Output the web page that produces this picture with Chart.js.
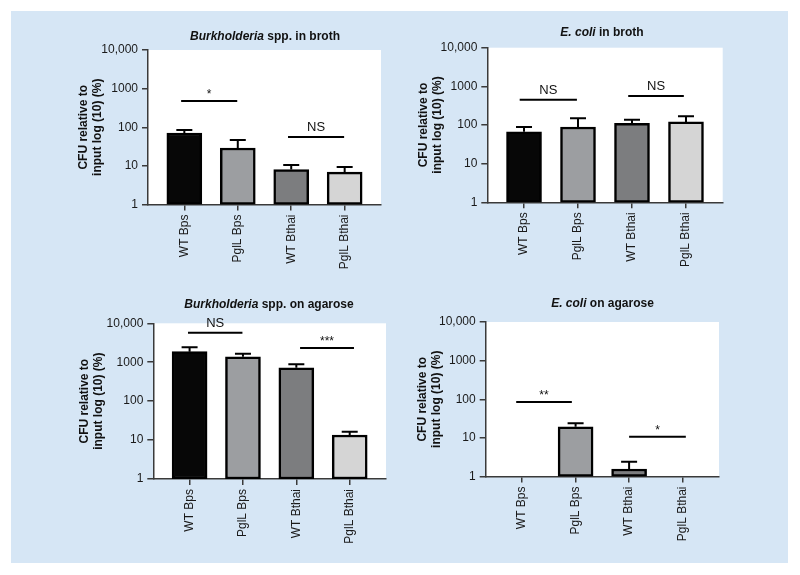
<!DOCTYPE html>
<html>
<head>
<meta charset="utf-8">
<script src="https://cdn.jsdelivr.net/npm/chart.js@4.4.1/dist/chart.umd.min.js"></script>
<style>
  html, body { margin: 0; padding: 0; background: #fff; }
  #page { position: relative; width: 800px; height: 575px; background: #fff; overflow: hidden; }
  #panel { position: absolute; left: 11px; top: 11px; width: 777px; height: 552px; background: #d6e6f5; }
  canvas { position: absolute; }
</style>
</head>
<body>
<div id="page">
  <div id="panel"></div>
  <canvas id="c1" width="400" height="288" style="left:0;top:0"></canvas>
  <canvas id="c2" width="400" height="288" style="left:400px;top:0"></canvas>
  <canvas id="c3" width="400" height="288" style="left:0;top:288px"></canvas>
  <canvas id="c4" width="400" height="288" style="left:400px;top:288px"></canvas>
</div>
<script>
const categories = ['WT Bps', 'PglL Bps', 'WT Bthai', 'PglL Bthai'];
const yTickValues = [1, 10, 100, 1000, 10000];
const yTickLabels = ['1', '10', '100', '1000', '10,000'];
const yTitle = ['CFU relative to', 'input log (10) (%)'];

// Burkholderia spp. in broth
const burkBrothMean = [71, 29, 8.0, 6.9];
const burkBrothUpper = [85, 47, 10.5, 9.4];
const burkBrothSigText = ['*', 'NS'];
const burkBrothSigFrom = [-0.06, 1.94];
const burkBrothSigTo = [0.99, 2.99];
const burkBrothSigAt = [479, 56];

// E. coli in broth
const ecoliBrothMean = [67, 89, 111, 120];
const ecoliBrothUpper = [89, 149, 137, 168];
const ecoliBrothSigText = ['NS', 'NS'];
const ecoliBrothSigFrom = [-0.08, 1.93];
const ecoliBrothSigTo = [0.98, 2.96];
const ecoliBrothSigAt = [452, 562];

// Burkholderia spp. on agarose
const burkAgarMean = [1865, 1384, 722, 13.5];
const burkAgarUpper = [2416, 1656, 883, 16.3];
const burkAgarSigText = ['NS', '***'];
const burkAgarSigFrom = [-0.03, 2.07];
const burkAgarSigTo = [0.99, 3.08];
const burkAgarSigAt = [5730, 2320];

// E. coli on agarose (no growth for WT Bps / PglL Bthai)
const ecoliAgarMean = [null, 19.4, 1.56, null];
const ecoliAgarUpper = [null, 23.8, 2.4, null];
const ecoliAgarSigText = ['**', '*'];
const ecoliAgarSigFrom = [-0.11, 2.0];
const ecoliAgarSigTo = [0.93, 3.06];
const ecoliAgarSigAt = [85, 10.7];

const FONT = "'Liberation Sans', Arial, sans-serif";
const barColors = ['#070707', '#9c9ea1', '#7c7d7f', '#d5d5d5'];
const axisColor = '#3a3a3a';
const TITLE_LH = 13.8;
const X_AXIS_H = 75;

const panels = [
    { id: 'c1', plot: { left: 148, top: 50, right: 381, bottom: 204.5 }, yTitleX: 84, titleX: 265, titleY: 36.5,
      italic: 'Burkholderia', rest: ' spp. in broth',
      mean: burkBrothMean, upper: burkBrothUpper, sigText: burkBrothSigText, sigFrom: burkBrothSigFrom, sigTo: burkBrothSigTo, sigAt: burkBrothSigAt },
    { id: 'c2', plot: { left: 87.3, top: 47.7, right: 322.7, bottom: 202.3 }, yTitleX: 24, titleX: 202, titleY: 33,
      italic: 'E. coli', rest: ' in broth',
      mean: ecoliBrothMean, upper: ecoliBrothUpper, sigText: ecoliBrothSigText, sigFrom: ecoliBrothSigFrom, sigTo: ecoliBrothSigTo, sigAt: ecoliBrothSigAt },
    { id: 'c3', plot: { left: 153.3, top: 35.3, right: 386, bottom: 191 }, yTitleX: 85, titleX: 269, titleY: 17,
      italic: 'Burkholderia', rest: ' spp. on agarose',
      mean: burkAgarMean, upper: burkAgarUpper, sigText: burkAgarSigText, sigFrom: burkAgarSigFrom, sigTo: burkAgarSigTo, sigAt: burkAgarSigAt },
    { id: 'c4', plot: { left: 85.7, top: 34, right: 319, bottom: 188.5 }, yTitleX: 23, titleX: 202.5, titleY: 16,
      italic: 'E. coli', rest: ' on agarose',
      mean: ecoliAgarMean, upper: ecoliAgarUpper, sigText: ecoliAgarSigText, sigFrom: ecoliAgarSigFrom, sigTo: ecoliAgarSigTo, sigAt: ecoliAgarSigAt },
];

function panelPlugin(p) {
    return {
        id: 'extras-' + p.id,
        beforeDraw(chart) {
            const a = chart.chartArea;
            const ctx = chart.ctx;
            ctx.save();
            ctx.fillStyle = '#fff';
            ctx.fillRect(a.left, a.top, a.right - a.left, a.bottom - a.top);
            ctx.restore();
        },
        afterDatasetsDraw(chart) {
            const { ctx, scales: { x, y } } = chart;
            ctx.save();
            ctx.strokeStyle = '#000';
            ctx.lineWidth = 2;
            // error bars (upper only)
            p.mean.forEach((m, i) => {
                if (m == null) return;
                const px = x.getPixelForValue(i);
                const top = y.getPixelForValue(m);
                const cap = y.getPixelForValue(p.upper[i]);
                ctx.beginPath();
                ctx.moveTo(px, top);
                ctx.lineTo(px, cap);
                ctx.moveTo(px - 8, cap);
                ctx.lineTo(px + 8, cap);
                ctx.stroke();
            });
            // significance bars
            ctx.fillStyle = '#111';
            ctx.textAlign = 'center';
            ctx.textBaseline = 'alphabetic';
            p.sigText.forEach((t, i) => {
                const x1 = x.getPixelForValue(p.sigFrom[i]);
                const x2 = x.getPixelForValue(p.sigTo[i]);
                const py = y.getPixelForValue(p.sigAt[i]);
                ctx.beginPath();
                ctx.moveTo(x1, py);
                ctx.lineTo(x2, py);
                ctx.stroke();
                const star = t.includes('*');
                ctx.font = (star ? '12px ' : '13px ') + FONT;
                ctx.fillText(t, (x1 + x2) / 2, py - (star ? 3 : 6));
            });
            ctx.restore();
        },
        afterDraw(chart) {
            const ctx = chart.ctx;
            ctx.save();
            ctx.font = 'italic bold 12px ' + FONT;
            const w1 = ctx.measureText(p.italic).width;
            ctx.font = 'bold 12px ' + FONT;
            const w2 = ctx.measureText(p.rest).width;
            const sx = p.titleX - (w1 + w2) / 2;
            ctx.fillStyle = '#111';
            ctx.textAlign = 'left';
            ctx.textBaseline = 'middle';
            ctx.font = 'italic bold 12px ' + FONT;
            ctx.fillText(p.italic, sx, p.titleY);
            ctx.font = 'bold 12px ' + FONT;
            ctx.fillText(p.rest, sx + w1, p.titleY);
            ctx.restore();
        }
    };
}

function makePanel(p) {
    const yWidth = p.plot.left - (p.yTitleX - TITLE_LH / 2);
    const canvas = document.getElementById(p.id);
    const tickFont = { family: FONT, size: 12 };

    new Chart(canvas, {
        type: 'bar',
        data: {
            labels: categories,
            datasets: [{
                data: p.mean.map((v, i) => ({ x: i, y: v })),
                backgroundColor: barColors,
                borderColor: '#000',
                borderWidth: 2.5,
                borderSkipped: false,
                barThickness: 35,
            }],
        },
        options: {
            responsive: false,
            animation: false,
            devicePixelRatio: 1,
            layout: {
                padding: {
                    left: p.plot.left - yWidth,
                    top: p.plot.top,
                    right: canvas.width - p.plot.right,
                    bottom: canvas.height - p.plot.bottom - X_AXIS_H,
                },
            },
            plugins: { legend: { display: false }, tooltip: { enabled: false } },
            scales: {
                x: {
                    type: 'linear',
                    min: -0.68,
                    max: 3.68,
                    offset: false,
                    afterBuildTicks: s => { s.ticks = categories.map((c, i) => ({ value: i })); },
                    afterFit: s => { s.height = X_AXIS_H; },
                    ticks: {
                        callback: v => categories[v],
                        minRotation: 90,
                        maxRotation: 90,
                        autoSkip: false,
                        padding: 4,
                        font: tickFont,
                        color: '#1a1a1a',
                    },
                    grid: { drawOnChartArea: false, offset: false, tickLength: 6, color: axisColor, lineWidth: 1.5 },
                    border: { display: true, color: axisColor, width: 1.5 },
                },
                y: {
                    type: 'logarithmic',
                    min: 1,
                    max: 10000,
                    afterBuildTicks: s => { s.ticks = yTickValues.map(v => ({ value: v })); },
                    afterFit: s => { s.width = yWidth; },
                    ticks: {
                        callback: v => yTickLabels[yTickValues.indexOf(v)],
                        autoSkip: false,
                        padding: 4,
                        font: tickFont,
                        color: '#1a1a1a',
                    },
                    grid: { drawOnChartArea: false, tickLength: 6, color: axisColor, lineWidth: 1.5 },
                    border: { display: true, color: axisColor, width: 1.5 },
                    title: {
                        display: true,
                        text: yTitle,
                        padding: 0,
                        color: '#111',
                        font: { family: FONT, size: 12, weight: 'bold', lineHeight: TITLE_LH / 12 },
                    },
                },
            },
        },
        plugins: [panelPlugin(p)],
    });
}

panels.forEach(makePanel);
</script>
</body>
</html>
